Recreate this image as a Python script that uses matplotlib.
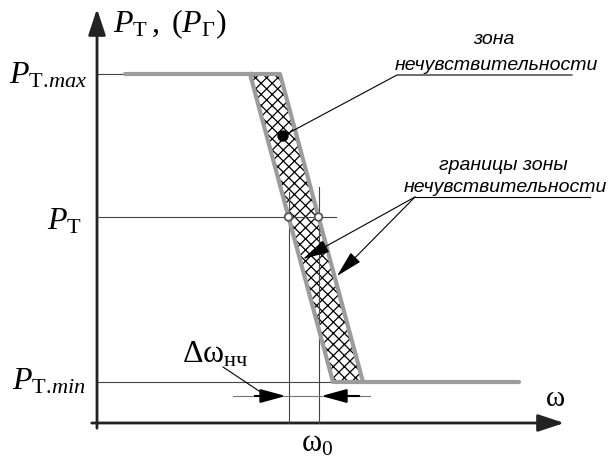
import numpy as np
import matplotlib.pyplot as plt
from matplotlib.patches import Polygon, Circle

plt.rcParams['mathtext.fontset'] = 'custom'
plt.rcParams['mathtext.rm'] = 'Liberation Serif'
plt.rcParams['mathtext.it'] = 'Liberation Serif:italic'
plt.rcParams['hatch.linewidth'] = 0.9

# power levels (plot units, y up)
p_max = 385
p_set = 242
p_min = 77

# static characteristic: frequency where the left edge meets p_max / p_min
w_left_top = 250
w_left_bottom = 333
dead_band = 30          # width of the insensitivity zone along omega
w_flat_start = 125
w_flat_end = 519

# axes extents
axis_x0, axis_y0 = 97, 36
axis_x1, axis_y1 = 567, 453

gray = '#9c9c9c'
dark = '#222222'
thin = '#444444'

fig = plt.figure(figsize=(6.11, 4.60), dpi=100)
ax = fig.add_axes([0, 0, 1, 1])
ax.set_xlim(0, 611)
ax.set_ylim(0, 460)
ax.axis('off')


def edge_at(p, offset=0.0):
    # omega on the characteristic edge for a given power level
    t = (p_max - p) / (p_max - p_min)
    return w_left_top + t * (w_left_bottom - w_left_top) + offset


# axes with arrows
ax.annotate('', xy=(axis_x0, axis_y1), xytext=(axis_x0, axis_y0 - 8),
            arrowprops=dict(arrowstyle='-|>,head_length=1.0,head_width=0.33',
                            mutation_scale=16, color=dark, lw=2))
ax.annotate('', xy=(axis_x1, axis_y0), xytext=(axis_x0 - 8, axis_y0),
            arrowprops=dict(arrowstyle='-|>,head_length=1.0,head_width=0.33',
                            mutation_scale=16, color=dark, lw=2))

# insensitivity zone
band = Polygon([(w_left_top, p_max), (w_left_top + dead_band, p_max),
                (w_left_bottom + dead_band, p_min), (w_left_bottom, p_min)],
               closed=True, facecolor='white', edgecolor='black',
               hatch='xxx', lw=0, zorder=2)
ax.add_patch(band)

# level lines
ax.plot([axis_x0, w_flat_start], [p_max, p_max], color=thin, lw=0.8, zorder=1)
ax.plot([axis_x0, edge_at(p_set, dead_band) + 17], [p_set, p_set],
        color=thin, lw=0.8, zorder=3)
ax.plot([axis_x0, w_left_bottom + 17], [p_min, p_min], color=thin, lw=0.8, zorder=1)

# boundaries of the zone
ax.plot([w_flat_start, w_left_top + dead_band, w_left_bottom + dead_band, w_flat_end],
        [p_max, p_max, p_min, p_min], color=gray, lw=3, solid_capstyle='round',
        solid_joinstyle='round', zorder=4)
ax.plot([w_left_top, w_left_bottom, w_left_bottom + dead_band],
        [p_max, p_min, p_min], color=gray, lw=3, solid_joinstyle='round', zorder=4)

# operating points and omega_0 lines
w_a = edge_at(p_set)
w_b = edge_at(p_set, dead_band)
for w, top in [(w_a, p_set + 25), (w_b, p_set + 30)]:
    ax.plot([w, w], [axis_y0, top], color=thin, lw=0.8, zorder=3)
    ax.add_patch(Circle((w, p_set), 3.8, facecolor='white', edgecolor='#555555',
                        lw=1.3, zorder=5))

# delta omega arrows
y_dw = 63
ax.plot([233, 370], [y_dw, y_dw], color='#777777', lw=0.8, zorder=3)
ax.annotate('', xy=(w_a, y_dw), xytext=(252, y_dw),
            arrowprops=dict(arrowstyle='-|>,head_length=1.1,head_width=0.3',
                            mutation_scale=14, color='black', lw=1.5))
ax.annotate('', xy=(w_b, y_dw), xytext=(362, y_dw),
            arrowprops=dict(arrowstyle='-|>,head_length=1.1,head_width=0.3',
                            mutation_scale=14, color='black', lw=1.5))
ax.plot([223, 265], [92, 64], color='black', lw=0.8)

# zone label with leader
ax.plot([283, 397, 572], [323, 384, 384], color='black', lw=0.8, zorder=6)
ax.add_patch(Circle((283, 323), 5, color='black', zorder=7))

# boundary labels with arrows
ax.plot([415, 590], [262, 262], color='black', lw=0.8)
for tip in [(303, 200), (337, 183)]:
    ax.annotate('', xy=tip, xytext=(415, 262),
                arrowprops=dict(arrowstyle='-|>,head_length=1.2,head_width=0.3',
                                mutation_scale=14, color='black', lw=0.8,
                                shrinkA=0, shrinkB=0), zorder=6)

sans = dict(family='Liberation Sans', style='italic', fontsize=14,
            ha='center', va='center')
ax.text(494, 420, 'зона', **sans)
ax.text(496, 395, 'нечувствительности', **sans)
ax.text(503, 295, 'границы зоны', **sans)
ax.text(505, 272, 'нечувствительности', **sans)

# axis and level labels
ax.text(113, 436, r'$P_{\mathrm{Т}}\,,\ (P_{\mathrm{Г}})$', fontsize=23,
        ha='left', va='center')
ax.text(88, p_max, r'$P_{\mathrm{Т.}\!max}$', fontsize=23, ha='right', va='center')
ax.text(82, p_set - 3, r'$P_{\mathrm{Т}}$', fontsize=23, ha='right', va='center')
ax.text(86, p_min + 2, r'$P_{\mathrm{Т.}\!min}$', fontsize=23, ha='right', va='center')
ax.text(555, 62, r'$\mathrm{\omega}$', fontsize=21, ha='center', va='center')
ax.text(317, 16, r'$\mathrm{\omega}_0$', fontsize=22, ha='center', va='center')
ax.text(215, 106, r'$\mathrm{\Delta\omega}_{\mathrm{нч}}$', fontsize=23,
        ha='center', va='center')

fig.savefig('out.png', dpi=100)
